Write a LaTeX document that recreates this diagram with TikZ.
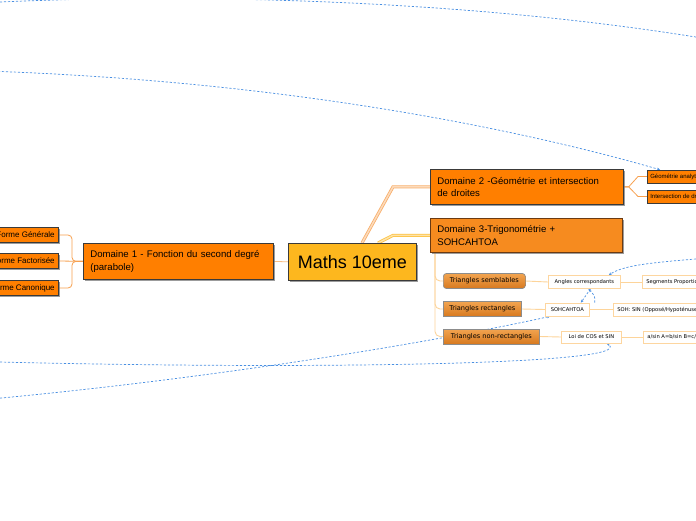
\documentclass[tikz,border=0pt]{standalone}
\usepackage{fontspec}
\setmainfont{Liberation Sans}
\newfontfamily\vfont{DejaVu Sans}
\usetikzlibrary{shadows,arrows.meta,calc}
\definecolor{orA}{HTML}{FF7F00}
\definecolor{orB}{HTML}{F68B1F}
\definecolor{goldc}{HTML}{FDB71E}
\definecolor{tric}{HTML}{E3892D}
\definecolor{tritop}{HTML}{F2A450}
\definecolor{tribot}{HTML}{D7791F}
\definecolor{bdc}{HTML}{3A3A3A}
\definecolor{brc}{HTML}{6B3A12}
\definecolor{lvb}{HTML}{FDD6A0}
\definecolor{conA}{HTML}{F7A04F}
\definecolor{conB}{HTML}{FDD49A}
\definecolor{dblue}{HTML}{4A90E2}
\pgfdeclarelayer{back}
\pgfdeclarelayer{bg}
\pgfsetlayers{back,bg,main}
\tikzset{
  shad/.style={drop shadow={shadow xshift=1.3pt, shadow yshift=-1.3pt, fill=black!55, opacity=0.7}},
  dom/.style={draw=bdc, line width=0.7pt, shad, inner xsep=7pt, inner ysep=2pt, align=left, anchor=north west, font=\fontsize{9.6}{12.5}\selectfont},
  forme/.style={draw=bdc, line width=0.6pt, fill=orA, shad, inner xsep=4pt, inner ysep=1pt, minimum height=15pt, anchor=east, font=\fontsize{8}{9}\selectfont},
  geo/.style={draw=bdc, line width=0.6pt, fill=orA, shad, inner xsep=3pt, inner ysep=1pt, minimum height=13pt, anchor=west, font=\fontsize{6}{7}\selectfont},
  tri/.style={draw=black!45, line width=0.7pt, top color=tritop, bottom color=tribot, inner xsep=3pt, inner ysep=1pt, minimum height=15pt, anchor=west, font=\vfont\fontsize{6.6}{8}\selectfont},
  lvl/.style={draw=lvb, line width=0.8pt, fill=white, inner xsep=4pt, inner ysep=1pt, minimum height=13pt, anchor=west, font=\vfont\fontsize{5.2}{6}\selectfont},
  conn/.style={draw=conA, line width=0.8pt},
  connl/.style={draw=conB, line width=0.9pt},
  dbl/.style={draw=#1, line width=0.8pt, double=white!55!#1, double distance=1.5pt},
  dlink/.style={draw=dblue, line width=0.7pt, dash pattern=on 2.2pt off 1.8pt},
  tip/.style={-{Stealth[length=3pt,width=2.6pt]}}
}
\begin{document}
\begin{tikzpicture}[x=1pt,y=-1pt]
\begin{pgfonlayer}{back}
\fill[white] (0,0) rectangle (696,520);
\end{pgfonlayer}
\useasboundingbox (0,0) rectangle (696,520);
\clip (0,0) rectangle (696,520);

% central and domains
\node[draw=bdc, line width=0.7pt, fill=goldc, shad, anchor=north west, minimum width=128pt, minimum height=37pt, inner sep=0pt, font=\fontsize{18}{20}\selectfont] (c) at (288,243) {Maths 10eme};
\node[dom, fill=orA, text width=176pt, minimum height=36pt] (d1) at (83,243) {Domaine 1 - Fonction du second degré\\(parabole)};
\node[dom, fill=orA, text width=179pt, minimum height=35pt] (d2) at (430,169) {Domaine 2 -Géométrie et intersection\\de droites};
\node[dom, fill=orB, draw=brc, text width=178pt, minimum height=34pt] (d3) at (430,218) {Domaine 3-Trigonométrie +\\SOHCAHTOA};

% domaine 1 children
\node[forme] (f1) at (59,235) {Forme Générale};
\node[forme] (f2) at (59,261) {Forme Factorisée};
\node[forme] (f3) at (59,288) {Forme Canonique};

% domaine 2 children
\node[geo] (g1) at (647,176.5) {Géométrie analytique};
\node[geo] (g2) at (647,196.5) {Intersection de droites};

% domaine 3 children
\node[tri, rounded corners=3pt, minimum width=82pt] (t1) at (443,281) {Triangles semblables};
\node[tri, minimum width=78pt] (t2) at (443,309) {Triangles rectangles};
\node[tri, minimum width=96pt] (t3) at (443,336.5) {Triangles non-rectangles};

\node[lvl, minimum width=72pt] (a1) at (548,282) {Angles correspondants};
\node[lvl] (a2) at (642,282) {Segments Proportionnels};
\node[lvl, minimum width=44pt] (s1) at (545,309.5) {SOHCAHTOA};
\node[lvl] (s2) at (613,309.5) {SOH: SIN (Opposé/Hypoténuse)};
\node[lvl, minimum width=60pt, minimum height=12pt] (l1) at (561,337) {Loi de COS et SIN};
\node[lvl, minimum height=12pt] (l2) at (643,337) {a/sin A=b/sin B=c/sin C};

\begin{pgfonlayer}{bg}
% solid connectors
\draw[conn, draw=conA!70] (c.west) -- (d1.east);
\draw[dbl=conA!85] ($(c.north west)+(74,0)$) -- ($(d2.west)+(-37,0)$) -- (d2.west);
\draw[dbl=goldc!85] ($(c.north west)+(90,0)$) -- ($(d3.west)+(-37,0)$) -- (d3.west);
\draw[conn, rounded corners=4pt] (d1.west) -- ++(-11,0) |- (f1.east);
\draw[conn, rounded corners=4pt] (d1.west) -- ++(-11,0) |- (f3.east);
\draw[conn] (d1.west) -- (f2.east);
\draw[conn] (d2.east) -- ++(5,0) -- ($(g1.west)+(-9,0)$) -- (g1.west);
\draw[conn] (d2.east) -- ++(5,0) -- ($(g2.west)+(-9,0)$) -- (g2.west);
\draw[connl, rounded corners=5pt] ($(d3.south west)+(5,0)$) |- (t1.west);
\draw[connl, rounded corners=5pt] ($(d3.south west)+(5,0)$) |- (t2.west);
\draw[connl, rounded corners=5pt] ($(d3.south west)+(5,0)$) |- (t3.west);
\draw[connl] (t1.east) -- (a1.west);
\draw[connl] (a1.east) -- (a2.west);
\draw[connl] (t2.east) -- (s1.west);
\draw[connl] (s1.east) -- (s2.west);
\draw[connl] (t3.east) -- (l1.west);
\draw[connl] (l1.east) -- (l2.west);

% dashed relation links
\coordinate (e1a) at (-20,3);
\coordinate (e1b) at (720,41);
\coordinate (e2a) at (-30,70.5);
\coordinate (e3a) at (720,257);
\coordinate (e5a) at (-20,400);
\coordinate (e6a) at (-20,361.5);
\draw[dlink] (e1a) .. controls (150,-6) and (450,-5) .. (e1b);
\draw[dlink, tip] (e2a) .. controls (300,80) and (540,135) .. ($(g1.north west)+(13,0)$);
\draw[dlink, tip] (e3a) .. controls (660,262) and (625,264) .. ($(a1.north east)+(-12,0)$);
\draw[dlink, tip] ($(s1.north east)+(5,0)$) .. controls (595,296) .. ($(a1.south)+(4,0)$);
\draw[dlink, tip] ($(a1.south)+(6,0)$) .. controls (586,296) .. ($(s1.north east)+(-9,0)$);
\draw[dlink, tip] (e5a) .. controls (200,380) and (420,345) .. ($(s1.south west)+(5,0)$);
\draw[dlink, tip] (e6a) .. controls (300,370) and (640,365) .. ($(l1.south east)+(-15,0)$);
\end{pgfonlayer}
\end{tikzpicture}
\end{document}
